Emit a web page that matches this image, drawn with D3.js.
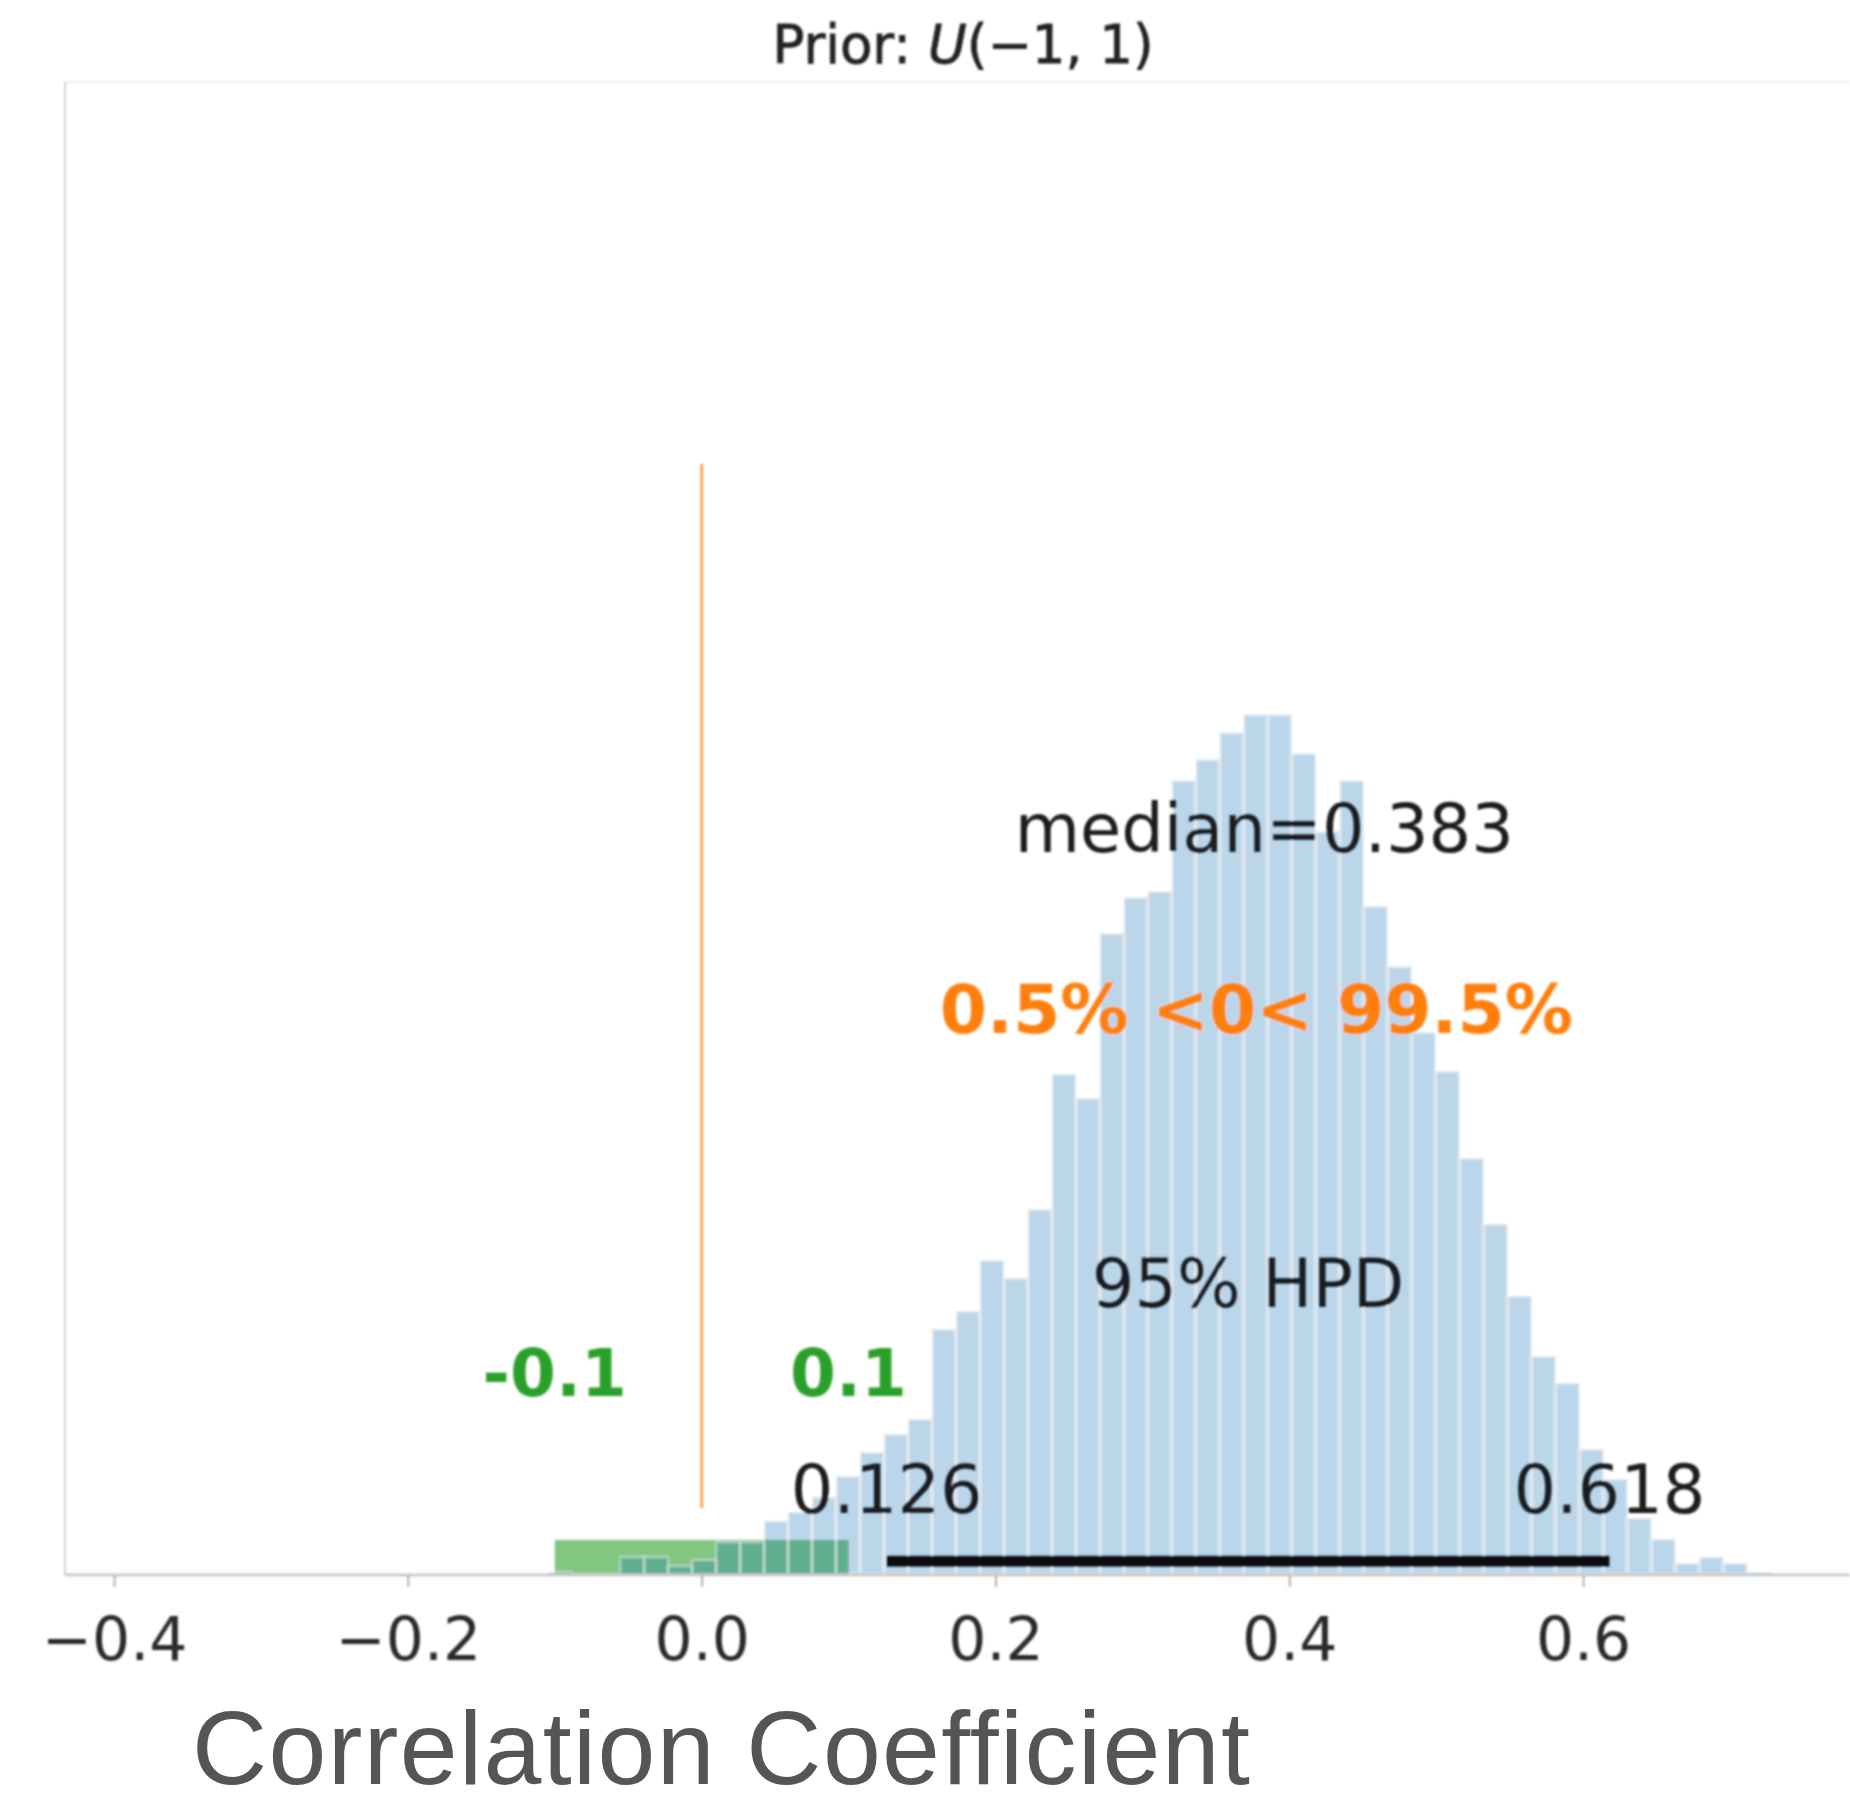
<!DOCTYPE html>
<html>
<head>
<meta charset="utf-8">
<script src="https://cdn.jsdelivr.net/npm/d3@7"></script>
<style>
  body { margin: 0; background: #fff; }
  svg { display: block; }
</style>
</head>
<body>
<div id="chart"></div>
<script>
// histogram of posterior samples (51 equal bins)
const binStart = -0.1044;
const binWidth = 0.016325;
const counts = [
  1, 0, 0, 6, 6, 3, 5, 11, 11, 18,
  21, 26, 33, 41, 47, 52, 82, 88, 105, 99,
  122, 167, 159, 214, 226, 228, 265, 272, 281, 287,
  287, 274, 248, 265, 223, 203, 181, 168, 139, 117,
  93, 73, 64, 42, 32, 19, 12, 4, 6, 4,
  1
];

const xTicks = [-0.4, -0.2, 0.0, 0.2, 0.4, 0.6];
const xLim = [-0.4334, 0.7817];
const yMax = 498;

const median = 0.383;
const hpd = [0.126, 0.618];
const rope = [-0.1, 0.1];
const refVal = 0;
const pctBelow = '0.5%';
const pctAbove = '99.5%';

// vertical levels of the annotations, in count units
const ropeBand = 11.7;
const hpdLevel = 4.6;
const refLine = [22.3, 370.7];
const medianTextY = 241;
const refTextY = 180.7;
const hpdTextY = 89.3;
const ropeTextY = 59.7;
const hpdValTextY = 20.7;

const width = 1850, height = 1807;
const plot = { left: 65, right: 1850, top: 82, bottom: 1575 };
const mplFont = '"DejaVu Sans", sans-serif';

const svg = d3.select('#chart').append('svg')
  .attr('width', width)
  .attr('height', height);

svg.append('rect')
  .attr('width', width)
  .attr('height', height)
  .attr('fill', '#fff');

// the source picture is an upscaled figure, so soften everything a bit
svg.append('defs')
  .append('filter')
  .attr('id', 'soft')
  .append('feGaussianBlur')
  .attr('stdDeviation', 0.9);

const g = svg.append('g').attr('filter', 'url(#soft)');

const x = d3.scaleLinear().domain(xLim).range([plot.left, plot.right]);
const y = d3.scaleLinear().domain([0, yMax]).range([plot.bottom, plot.top]);

// spines
g.append('line')
  .attr('x1', plot.left).attr('x2', plot.right)
  .attr('y1', plot.top).attr('y2', plot.top)
  .attr('stroke', '#f0f0f0').attr('stroke-width', 2);
g.append('line')
  .attr('x1', plot.left).attr('x2', plot.left)
  .attr('y1', plot.top).attr('y2', plot.bottom)
  .attr('stroke', '#d0d0d0').attr('stroke-width', 2);

// rope band
g.append('rect')
  .attr('x', x(rope[0]))
  .attr('width', x(rope[1]) - x(rope[0]))
  .attr('y', y(ropeBand))
  .attr('height', y(0) - y(ropeBand))
  .attr('fill', '#2ca02c')
  .attr('fill-opacity', 0.6);

const bins = counts.map((c, i) => ({
  x0: binStart + i * binWidth,
  x1: binStart + (i + 1) * binWidth,
  count: c
})).filter(d => d.count > 0);

g.append('g')
  .selectAll('rect')
  .data(bins)
  .enter()
  .append('rect')
  .attr('x', d => x(d.x0))
  .attr('width', d => x(d.x1) - x(d.x0))
  .attr('y', d => y(d.count))
  .attr('height', d => y(0) - y(d.count))
  .attr('fill', '#1f77b4')
  .attr('fill-opacity', 0.3)
  .attr('stroke', '#fff')
  .attr('stroke-opacity', 0.4)
  .attr('stroke-width', 2);

// reference value line
g.append('line')
  .attr('x1', x(refVal)).attr('x2', x(refVal))
  .attr('y1', y(refLine[0])).attr('y2', y(refLine[1]))
  .attr('stroke', '#ff7f0e')
  .attr('stroke-opacity', 0.7)
  .attr('stroke-width', 3);

// hpd bar
g.append('line')
  .attr('x1', x(hpd[0])).attr('x2', x(hpd[1]))
  .attr('y1', y(hpdLevel)).attr('y2', y(hpdLevel))
  .attr('stroke', '#111')
  .attr('stroke-width', 11);

// x axis
g.append('line')
  .attr('x1', plot.left).attr('x2', plot.right)
  .attr('y1', plot.bottom).attr('y2', plot.bottom)
  .attr('stroke', '#cbcbcb').attr('stroke-width', 3);

const xAxis = g.append('g')
  .attr('transform', 'translate(0,' + plot.bottom + ')')
  .call(d3.axisBottom(x)
    .tickValues(xTicks)
    .tickSize(12)
    .tickFormat(d3.format('.1f')));

xAxis.select('.domain').remove();
xAxis.selectAll('line')
  .attr('stroke', '#b0b0b0')
  .attr('stroke-width', 2);
xAxis.selectAll('text')
  .attr('y', 85)
  .attr('dy', null)
  .attr('fill', '#2a2a2a')
  .style('font-family', mplFont)
  .style('font-size', '60px');

// annotations
const addText = (txt, xv, yv, opts) => {
  return g.append('text')
    .attr('x', x(xv) + (opts.dx || 0))
    .attr('y', y(yv))
    .attr('text-anchor', 'middle')
    .attr('fill', opts.color)
    .attr('font-weight', opts.bold ? 'bold' : 'normal')
    .style('font-family', mplFont)
    .style('font-size', (opts.size || 67) + 'px')
    .text(txt);
};

addText('median=' + median, median, medianTextY, { color: '#1a1a1a' });
addText(pctBelow + ' <' + refVal + '< ' + pctAbove, median, refTextY,
  { color: '#ff7f0e', bold: true, dx: -8, size: 68 });
addText('95% HPD', (hpd[0] + hpd[1]) / 2, hpdTextY, { color: '#1a1a1a' });
addText(String(hpd[0]), hpd[0], hpdValTextY, { color: '#1a1a1a' });
addText(String(hpd[1]), hpd[1], hpdValTextY, { color: '#1a1a1a' });
addText(String(rope[0]), rope[0], ropeTextY, { color: '#2ca02c', bold: true, size: 66 });
addText(String(rope[1]), rope[1], ropeTextY, { color: '#2ca02c', bold: true, size: 66 });

// title
const title = g.append('text')
  .attr('x', (plot.left + 1861) / 2)
  .attr('y', 63)
  .attr('text-anchor', 'middle')
  .attr('fill', '#222')
  .attr('stroke', '#222')
  .attr('stroke-width', 0.8)
  .style('font-family', mplFont)
  .style('font-size', '53px');
title.append('tspan').text('Prior: ');
title.append('tspan').attr('font-style', 'italic').text('U');
title.append('tspan').text('(\u22121, 1)');

// axis label, kept just inside the bottom edge
svg.append('text')
  .attr('x', 192)
  .attr('y', 1784)
  .attr('fill', '#555')
  .attr('letter-spacing', 1.4)
  .style('font-family', '"Liberation Sans", Arial, sans-serif')
  .style('font-size', '104px')
  .text('Correlation Coefficient');
</script>
</body>
</html>
